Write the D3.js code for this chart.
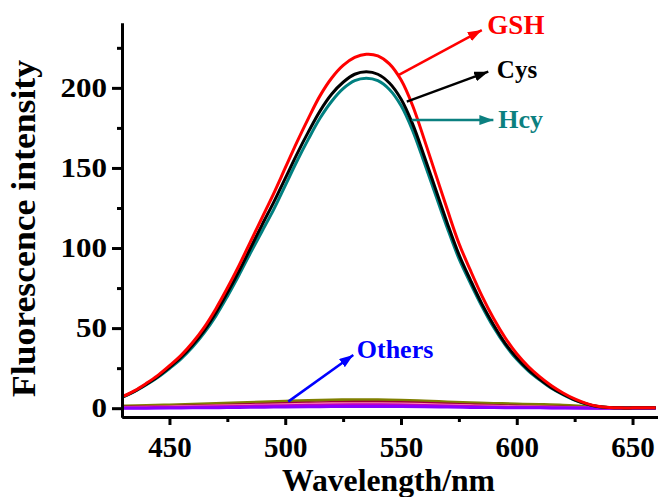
<!DOCTYPE html>
<html>
<head>
<meta charset="utf-8">
<script src="https://cdn.jsdelivr.net/npm/d3@7"></script>
<style>
  body { margin: 0; background: #fff; }
  svg text { font-family: 'Liberation Serif', 'Times New Roman', serif; font-weight: bold; }
</style>
</head>
<body>
<div id="chart"></div>
<script>
// wavelengths (nm) for the three thiol spectra
var wavelengths = [425, 430, 435, 440, 445, 450, 455, 460, 465, 470, 475, 480, 485, 490, 495, 500,
  505, 510, 515, 520, 525, 530, 535, 540, 545, 550, 555, 560, 565, 570, 575, 580, 585, 590, 595,
  600, 605, 610, 615, 620, 625, 630, 635, 640, 645, 650, 655, 660]

var gsh = [5.5, 7.5, 11, 15.5, 20.5, 26.5, 33, 41, 50.5, 62, 75, 89, 104, 119, 134, 150,
  166, 181, 195, 206, 214, 219, 221, 220, 215, 205, 189, 168, 146, 124, 103, 86, 70, 56, 44,
  34, 26, 19.5, 14, 9.5, 5.8, 3, 1.2, 0.4, 0.2, 0.2, 0.2, 0.2]

var cys = [5.3, 7.3, 10.7, 15, 19.8, 25.5, 31.8, 39.5, 48.5, 59.5, 72, 85.5, 100, 114.5, 128.5, 143.5,
  158.5, 172.5, 185.5, 196, 203.5, 208.5, 210, 208.5, 203, 193, 177.5, 157.5, 136.5, 115.5, 96, 80, 65, 52, 40.5,
  31.5, 24, 18, 12.8, 8.7, 5.2, 2.7, 1, 0.4, 0.2, 0.2, 0.2, 0.2]

var hcy = [5.2, 7.1, 10.4, 14.6, 19.3, 24.8, 30.8, 38.2, 47, 57.5, 69.8, 83, 97, 110.5, 124, 139,
  154, 168, 181, 191.5, 199.5, 204.5, 206, 204.5, 199, 189, 173.5, 153.5, 133, 112.5, 93.5, 78, 63.5, 50.5, 39.5,
  30.5, 23.3, 17.5, 12.4, 8.4, 5, 2.6, 1, 0.4, 0.2, 0.2, 0.2, 0.2]

// the other analytes, sampled every 10 nm
var otherWavelengths = [420, 430, 440, 450, 460, 470, 480, 490, 500, 510, 520, 530, 540,
  550, 560, 570, 580, 590, 600, 610, 620, 630, 640, 650, 660]

var olive = [1.2, 1.4, 1.7, 2.0, 2.4, 2.9, 3.4, 3.9, 4.4, 4.8, 5.1, 5.3, 5.3,
  5.0, 4.5, 3.9, 3.4, 3.0, 2.6, 2.3, 1.9, 1.2, 0.5, 0.3, 0.3]
var maroon = [0.6, 0.7, 0.9, 1.1, 1.4, 1.7, 2.1, 2.5, 2.9, 3.2, 3.5, 3.7, 3.7,
  3.5, 3.1, 2.6, 2.1, 1.7, 1.3, 1.0, 0.7, 0.4, 0.2, 0.1, 0.1]
var pink = [0.3, 0.4, 0.6, 0.8, 1.0, 1.3, 1.6, 1.9, 2.2, 2.5, 2.7, 2.8, 2.8,
  2.6, 2.3, 1.9, 1.5, 1.2, 0.9, 0.7, 0.5, 0.3, 0.1, 0.1, 0.1]
var magenta = [0.1, 0.2, 0.3, 0.5, 0.7, 0.9, 1.1, 1.4, 1.6, 1.8, 2.0, 2.1, 2.1,
  2.0, 1.7, 1.4, 1.1, 0.8, 0.6, 0.4, 0.3, 0.2, 0.1, 0, 0]
var purple = [-0.2, -0.1, 0, 0.1, 0.2, 0.3, 0.5, 0.6, 0.8, 0.9, 1.0, 1.1, 1.1,
  1.0, 0.9, 0.7, 0.5, 0.4, 0.3, 0.2, 0.1, 0, -0.1, -0.1, -0.1]

var xMajor = [450, 500, 550, 600, 650]
var xMinor = [475, 525, 575, 625]
var yMajor = [0, 50, 100, 150, 200]
var yMinor = [25, 75, 125, 175, 225]

var width = 658
var height = 497
var margin = { top: 23, left: 122, right: 0, bottom: 80 }

var svg = d3
  .select('#chart')
  .append('svg')
  .attr('width', width)
  .attr('height', height)

var x = d3.scaleLinear().domain([429.5, 661]).range([margin.left, width - margin.right])
var y = d3.scaleLinear().domain([-5.5, 240.5]).range([height - margin.bottom, margin.top])

svg
  .append('clipPath')
  .attr('id', 'plot-clip')
  .append('rect')
  .attr('x', margin.left)
  .attr('y', 0)
  .attr('width', width - margin.left)
  .attr('height', height - margin.bottom)

var plot = svg.append('g').attr('clip-path', 'url(#plot-clip)')

function drawSeries(xs, values, color) {
  var line = d3
    .line()
    .curve(d3.curveCatmullRom.alpha(0.5))
    .x(function(d, i) {
      return x(xs[i])
    })
    .y(function(d) {
      return y(d)
    })

  plot
    .append('path')
    .datum(values)
    .attr('d', line)
    .attr('fill', 'none')
    .attr('stroke', color)
    .attr('stroke-width', 3)
}

drawSeries(otherWavelengths, olive, '#808000')
drawSeries(otherWavelengths, maroon, '#a0003c')
drawSeries(otherWavelengths, pink, '#ff88b0')
drawSeries(otherWavelengths, magenta, '#c000c0')
drawSeries(otherWavelengths, purple, '#8800ff')
drawSeries(wavelengths, hcy, '#008080')
drawSeries(wavelengths, cys, '#000000')
drawSeries(wavelengths, gsh, '#ff0000')

// axes
var xAxis = svg
  .append('g')
  .attr('transform', 'translate(0,' + y.range()[0] + ')')
  .call(d3.axisBottom(x).tickValues(xMajor).tickSize(8).tickPadding(11).tickSizeOuter(0))

svg
  .append('g')
  .attr('transform', 'translate(0,' + y.range()[0] + ')')
  .call(d3.axisBottom(x).tickValues(xMinor).tickSize(5).tickFormat('').tickSizeOuter(0))

var yAxis = svg
  .append('g')
  .attr('transform', 'translate(' + x.range()[0] + ',0)')
  .call(d3.axisLeft(y).tickValues(yMajor).tickSize(10).tickPadding(5).tickSizeOuter(0))

svg
  .append('g')
  .attr('transform', 'translate(' + x.range()[0] + ',0)')
  .call(d3.axisLeft(y).tickValues(yMinor).tickSize(5).tickFormat('').tickSizeOuter(0))

svg.selectAll('.domain').attr('stroke', '#000').attr('stroke-width', 3)
svg.selectAll('.tick line').attr('stroke', '#000').attr('stroke-width', 3)

xAxis
  .selectAll('text')
  .attr('font-size', 29)
  .attr('fill', '#000')
  .attr('font-family', "'Liberation Serif', 'Times New Roman', serif")

yAxis
  .selectAll('text')
  .attr('font-size', 27)
  .attr('fill', '#000')
  .attr('font-family', "'Liberation Serif', 'Times New Roman', serif")
  .attr('textLength', function(d) {
    return String(d).length * 15.5
  })
  .attr('lengthAdjust', 'spacingAndGlyphs')

// axis titles
svg
  .append('text')
  .attr('x', 388.5)
  .attr('y', 491)
  .attr('text-anchor', 'middle')
  .attr('font-size', 31)
  .attr('textLength', 213)
  .attr('lengthAdjust', 'spacingAndGlyphs')
  .text('Wavelength/nm')

svg
  .append('text')
  .attr('transform', 'translate(35,228.5) rotate(-90)')
  .attr('text-anchor', 'middle')
  .attr('font-size', 33)
  .attr('textLength', 337)
  .attr('lengthAdjust', 'spacingAndGlyphs')
  .text('Fluorescence intensity')

// arrows and labels
var labelNames = ['GSH', 'Cys', 'Hcy', 'Others']
var labelColors = ['#ff0000', '#000000', '#0b8080', '#0000ff']
var labelAt = [[587.3, 233.4], [591.4, 206.2], [592.0, 174.9], [530.9, 31.3]]
var labelSizes = [27, 25, 26, 26]
var arrowFrom = [[548.9, 208], [552.5, 191.4], [554.6, 179.9], [501.3, 4.1]]
var arrowTo = [[584.9, 236.1], [587.7, 210.1], [589.9, 179.9], [529.4, 33.2]]

var defs = svg.append('defs')

labelNames.forEach(function(name, i) {
  defs
    .append('marker')
    .attr('id', 'arrow-' + i)
    .attr('viewBox', '0 0 14 10')
    .attr('refX', 14)
    .attr('refY', 5)
    .attr('markerUnits', 'userSpaceOnUse')
    .attr('markerWidth', 14)
    .attr('markerHeight', 10)
    .attr('orient', 'auto')
    .append('path')
    .attr('d', 'M0,0 L14,5 L0,10 Z')
    .attr('fill', labelColors[i])

  svg
    .append('line')
    .attr('x1', x(arrowFrom[i][0]))
    .attr('y1', y(arrowFrom[i][1]))
    .attr('x2', x(arrowTo[i][0]))
    .attr('y2', y(arrowTo[i][1]))
    .attr('stroke', labelColors[i])
    .attr('stroke-width', 2.5)
    .attr('marker-end', 'url(#arrow-' + i + ')')

  svg
    .append('text')
    .attr('x', x(labelAt[i][0]))
    .attr('y', y(labelAt[i][1]))
    .attr('font-size', labelSizes[i])
    .attr('fill', labelColors[i])
    .text(name)
})
</script>
</body>
</html>
